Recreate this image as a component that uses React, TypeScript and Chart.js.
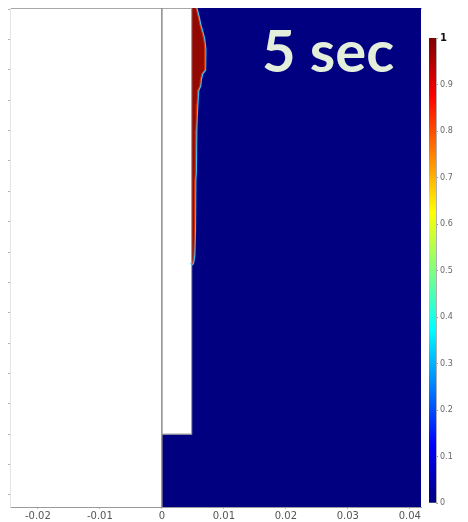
import React, { useEffect, useRef } from "react";
import { Chart, registerables } from "chart.js";

Chart.register(...registerables);

// Axis ranges (metres)
const X_MIN = -0.0245;
const X_MAX = 0.0418;
const Y_MIN = -0.002;
const Y_MAX = 0.0802;

const X_TICKS = [-0.02, -0.01, 0, 0.01, 0.02, 0.03, 0.04];
const Y_TICKS = [
  0, 0.005, 0.01, 0.015, 0.02, 0.025, 0.03, 0.035, 0.04, 0.045, 0.05, 0.055,
  0.06, 0.065, 0.07, 0.075, 0.08,
];
const COLORBAR_TICKS = [0, 0.1, 0.2, 0.3, 0.4, 0.5, 0.6, 0.7, 0.8, 0.9, 1];

// Mould geometry: inlet wall on the left of the cavity
const WALL_X = 0.0048;
const STEP_Y = 0.01;

// Melt front (volume fraction 1) along the inlet wall, top to bottom
const FRONT_Y = [
  0.0802, 0.0796, 0.0786, 0.0774, 0.0763, 0.075, 0.0733, 0.0717, 0.07, 0.0694,
  0.0684, 0.0674, 0.0667, 0.0657, 0.0643, 0.0626, 0.0601, 0.0568, 0.0532,
  0.0519, 0.0486, 0.0437, 0.0395, 0.0384, 0.0379,
];
const FRONT_X = [
  0.00548, 0.00565, 0.00589, 0.00613, 0.00645, 0.00677, 0.00694, 0.00694,
  0.00685, 0.00645, 0.00621, 0.00613, 0.00581, 0.00573, 0.00565, 0.00556,
  0.00548, 0.0054, 0.0054, 0.00532, 0.00529, 0.00524, 0.00516, 0.005, 0.0048,
];

const TIME_LABEL = "5 sec";

// Jet colour map used by the volume-fraction legend
const JET_STOPS: [number, string][] = [
  [0, "#000080"],
  [0.125, "#0000ff"],
  [0.375, "#00ffff"],
  [0.625, "#ffff00"],
  [0.875, "#ff0000"],
  [1, "#800000"],
];

const EMPTY_COLOR = "#000080";
const FULL_COLOR = "#930800";
const LABEL_FONT = "'DejaVu Sans', sans-serif";

const fmtTick = (v: number) => String(+Number(v).toFixed(4));

export default function App() {
  const mainRef = useRef<HTMLCanvasElement>(null);
  const barRef = useRef<HTMLCanvasElement>(null);

  useEffect(() => {
    const front = FRONT_Y.map((y, i) => ({ x: FRONT_X[i], y }));
    const line = {
      type: "line" as const,
      showLine: true,
      pointRadius: 0,
      tension: 0,
      xAxisID: "x",
      yAxisID: "y",
    };

    const main = new Chart(mainRef.current!, {
      type: "scatter",
      data: {
        datasets: [
          {
            ...line,
            label: "cavity",
            order: 10,
            data: [
              { x: 0, y: STEP_Y },
              { x: WALL_X, y: STEP_Y },
              { x: WALL_X, y: Y_MAX },
              { x: X_MAX, y: Y_MAX },
            ],
            borderWidth: 0,
            borderColor: EMPTY_COLOR,
            backgroundColor: EMPTY_COLOR,
            fill: "start",
          },
          {
            ...line,
            label: "front rim",
            order: 6,
            indexAxis: "y",
            data: front,
            borderWidth: 3.2,
            borderColor: "#38c4ff",
            fill: false,
          },
          {
            ...line,
            label: "melt",
            order: 5,
            indexAxis: "y",
            data: front,
            borderWidth: 1,
            borderColor: "#d83000",
            backgroundColor: FULL_COLOR,
            fill: { value: WALL_X },
          },
          {
            ...line,
            label: "symmetry",
            order: 2,
            data: [
              { x: 0, y: Y_MIN },
              { x: 0, y: Y_MAX },
            ],
            borderWidth: 1.5,
            borderColor: "#8c8c8c",
            fill: false,
          },
          {
            ...line,
            label: "wall",
            order: 1,
            data: [
              { x: 0, y: STEP_Y },
              { x: WALL_X, y: STEP_Y },
              { x: WALL_X, y: Y_MAX },
            ],
            borderWidth: 1.2,
            borderColor: "#a0a0a0",
            fill: false,
          },
        ] as any,
      },
      options: {
        responsive: false,
        animation: false,
        events: [],
        layout: { padding: { top: 8, right: 47, left: 0, bottom: 0 } },
        plugins: { legend: { display: false }, tooltip: { enabled: false } },
        scales: {
          x: {
            type: "linear",
            position: "bottom",
            min: X_MIN,
            max: X_MAX,
            afterBuildTicks: (s: any) => {
              s.ticks = X_TICKS.map((value) => ({ value }));
            },
            afterFit: (s: any) => {
              s.height = 15;
            },
            grid: { drawOnChartArea: false, tickLength: 2, color: "#b8b8b8" },
            border: { display: true, color: "#9a9a9a" },
            ticks: {
              padding: 1,
              maxRotation: 0,
              autoSkip: false,
              color: "#555",
              font: { family: LABEL_FONT, size: 10 },
              callback: (v: any) => fmtTick(v),
            },
          },
          xTop: {
            type: "linear",
            position: "top",
            min: X_MIN,
            max: X_MAX,
            afterFit: (s: any) => {
              s.height = 0;
            },
            grid: { display: false },
            border: { display: true, color: "#a8a8a8" },
            ticks: { display: false },
          },
          y: {
            type: "linear",
            min: Y_MIN,
            max: Y_MAX,
            afterBuildTicks: (s: any) => {
              s.ticks = Y_TICKS.map((value) => ({ value }));
            },
            afterFit: (s: any) => {
              s.width = 10;
            },
            grid: { drawOnChartArea: false, tickLength: 2, color: "#b0b0b0" },
            border: { display: true, color: "#e4e4e4" },
            ticks: { display: false },
          },
        },
      } as any,
    });

    const jetFill = (ctx: any) => {
      const { chart } = ctx;
      const area = chart.chartArea;
      if (!area) return EMPTY_COLOR;
      const g = chart.ctx.createLinearGradient(0, area.bottom, 0, area.top);
      JET_STOPS.forEach(([p, c]) => g.addColorStop(p, c));
      return g;
    };

    const bar = new Chart(barRef.current!, {
      type: "bar",
      data: {
        labels: [""],
        datasets: [
          {
            label: "volume fraction",
            data: [COLORBAR_TICKS[COLORBAR_TICKS.length - 1]],
            backgroundColor: jetFill,
            borderWidth: 0,
            categoryPercentage: 1,
            barPercentage: 1,
          },
        ],
      },
      options: {
        responsive: false,
        animation: false,
        events: [],
        layout: { padding: { left: 9, top: 38, bottom: 19, right: 0 } },
        plugins: { legend: { display: false }, tooltip: { enabled: false } },
        scales: {
          x: { display: false },
          y: {
            position: "right",
            min: 0,
            max: 1,
            afterBuildTicks: (s: any) => {
              s.ticks = COLORBAR_TICKS.map((value) => ({ value }));
            },
            afterFit: (s: any) => {
              s.width = 32;
            },
            grid: { drawOnChartArea: false, tickLength: 2, color: "#999" },
            border: { display: true, color: "#b0b0b0" },
            ticks: {
              padding: 2,
              color: (c: any) => (c.tick && c.tick.value === 1 ? "#111" : "#666"),
              font: (c: any) =>
                c.tick && c.tick.value === 1
                  ? { family: LABEL_FONT, size: 10, weight: "bold" }
                  : { family: LABEL_FONT, size: 8 },
              callback: (v: any) => fmtTick(v),
            },
          },
        },
      } as any,
    });

    return () => {
      main.destroy();
      bar.destroy();
    };
  }, []);

  return (
    <div
      style={{
        position: "absolute",
        left: 0,
        top: 0,
        width: 468,
        height: 522,
        background: "#fff",
        overflow: "hidden",
      }}
    >
      <canvas
        ref={mainRef}
        width={468}
        height={522}
        style={{ position: "absolute", left: 0, top: 0, width: 468, height: 522 }}
      />
      <canvas
        ref={barRef}
        width={48}
        height={522}
        style={{ position: "absolute", left: 420, top: 0, width: 48, height: 522 }}
      />
      <div
        style={{
          position: "absolute",
          left: 262,
          top: 21,
          fontFamily: "Lato, 'Open Sans', sans-serif",
          fontWeight: 700,
          fontSize: 58,
          lineHeight: "58px",
          color: "#e3eedb",
          whiteSpace: "nowrap",
        }}
      >
        {TIME_LABEL}
      </div>
    </div>
  );
}
